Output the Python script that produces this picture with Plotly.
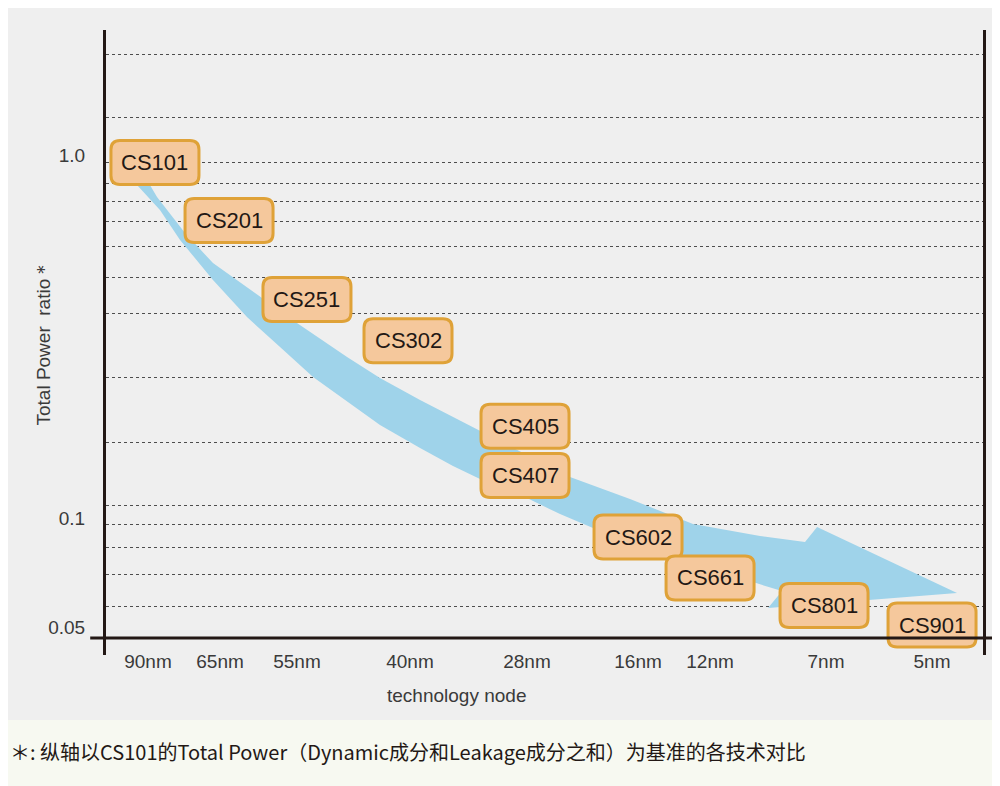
import numpy as np
import plotly.graph_objects as go

# technology nodes along the x axis (axis position)
nodes = ["90nm", "65nm", "55nm", "40nm", "28nm", "16nm", "12nm", "7nm", "5nm"]
node_x = [0, 0.735, 1.52, 2.673, 3.867, 5.0, 5.735, 6.918, 8.0]

# chips and their total power ratio (CS101 = 1.0)
chips = ["CS101", "CS201", "CS251", "CS302", "CS405", "CS407", "CS602", "CS661", "CS801", "CS901"]
chip_x = [0.071, 0.827, 1.622, 2.653, 3.847, 3.847, 5.0, 5.735, 6.898, 8.0]
chip_ratio = [0.954, 0.660, 0.400, 0.308, 0.179, 0.131, 0.0886, 0.0684, 0.0574, 0.0507]

y_ticks = [1.0, 0.1, 0.05]
y_ticktext = ["1.0", "0.1", "0.05"]
grid_vals = [1.897, 1.265, 0.951, 0.837, 0.747, 0.654, 0.558, 0.461, 0.367,
             0.2445, 0.161, 0.108, 0.0957, 0.0832, 0.0697, 0.0569]

# outline of the trend arrow (upper edge, head, lower edge back to start)
arrow_x = [0.020, 0.092, 0.378, 0.663, 1.092, 1.520, 2.031, 2.367, 2.776, 3.112,
           3.388, 3.867, 4.306, 4.918, 5.561, 6.245, 6.704,
           6.827, 8.255, 6.327, 6.469,
           6.173, 5.633, 5.020, 4.541, 4.204, 3.867, 3.388, 3.112, 2.776, 2.367,
           2.031, 1.684, 1.347, 1.010, 0.663, 0.327, 0.122, -0.112]
arrow_y = [0.827, 0.766, 0.6095, 0.5039, 0.4168, 0.3444, 0.2777, 0.2430, 0.2114, 0.1898,
           0.1736, 0.1491, 0.1297, 0.1128, 0.0963, 0.0892, 0.0859,
           0.0944, 0.0621, 0.0565, 0.0629,
           0.0666, 0.0742, 0.0842, 0.0939, 0.1025, 0.1135, 0.1281, 0.1391, 0.1559, 0.1804,
           0.2100, 0.2446, 0.2959, 0.3578, 0.4524, 0.5834, 0.7056, 0.827]

INK = "#231815"
LABEL = "#3a3a3a"
FONT = "Liberation Sans, Arial, sans-serif"
x_axis_pos = 0.0272  # height of the drawn x axis line in paper units

fig = go.Figure()
fig.add_trace(go.Scatter(
    x=arrow_x, y=arrow_y, mode="lines", fill="toself",
    fillcolor="#9fd3ea", line=dict(width=0, color="#9fd3ea"),
    hoverinfo="skip", showlegend=False,
))

# rounded chip boxes, sized in pixels and anchored on the data point
w, h, r = 44, 22, 9
box = (f"M{-w + r},{-h} L{w - r},{-h} Q{w},{-h} {w},{-h + r} L{w},{h - r} "
       f"Q{w},{h} {w - r},{h} L{-w + r},{h} Q{-w},{h} {-w},{h - r} "
       f"L{-w},{-h + r} Q{-w},{-h} {-w + r},{-h} Z")
for name, cx, cy in zip(chips, chip_x, chip_ratio):
    fig.add_shape(type="path", xref="x", yref="y", xsizemode="pixel", ysizemode="pixel",
                  xanchor=cx, yanchor=cy, path=box, fillcolor="#f5c89c",
                  line=dict(color="#dfa238", width=3), layer="above")
    fig.add_annotation(x=cx, y=np.log10(cy), text=name, showarrow=False,
                       xanchor="center", yanchor="middle",
                       font=dict(family=FONT, size=22, color=INK))

# x axis line, overhanging the plot frame
fig.add_shape(type="line", xref="paper", yref="paper", x0=-0.018, x1=1.014,
              y0=x_axis_pos, y1=x_axis_pos, line=dict(color=INK, width=3), layer="above")
# footer band
fig.add_shape(type="rect", xref="paper", yref="paper", x0=-0.13, x1=1.04,
              y0=-0.23, y1=-0.104, fillcolor="#f7f9f1", line=dict(width=0), layer="below")

fig.add_annotation(xref="paper", yref="paper", x=-0.0718, y=0.5, text="Total Power  ratio＊",
                   textangle=-90, showarrow=False, xanchor="center", yanchor="middle",
                   font=dict(family=FONT, size=19, color=LABEL))
fig.add_annotation(xref="paper", yref="paper", x=0.40, y=-0.064, text="technology node",
                   showarrow=False, xanchor="center", yanchor="middle",
                   font=dict(family=FONT, size=19, color=LABEL))
fig.add_annotation(xref="paper", yref="paper", x=-0.1117, y=-0.1536, xanchor="left",
                   yanchor="middle",
                   text="＊: 纵轴以CS101的Total Power（Dynamic成分和Leakage成分之和）为基准的各技术对比",
                   showarrow=False, font=dict(family="Noto Sans CJK SC", size=20, color=INK))

fig.update_layout(
    width=992, height=778,
    margin=dict(l=98, r=17, t=22, b=131),
    paper_bgcolor="#efefef", plot_bgcolor="#efefef",
    showlegend=False,
    xaxis=dict(range=[-0.4286, 8.52], tickmode="array", tickvals=node_x, ticktext=nodes,
               showgrid=False, zeroline=False, showline=False, anchor="free",
               position=x_axis_pos, ticks="", ticklabelstandoff=10,
               tickfont=dict(family=FONT, size=19, color=LABEL)),
    yaxis=dict(type="log", range=[-1.3774, 0.3444], tickmode="array", tickvals=y_ticks,
               ticktext=y_ticktext, showgrid=False, zeroline=False, ticks="",
               showline=True, mirror=True, linecolor=INK, linewidth=3,
               ticklabelstandoff=14,
               tickfont=dict(family=FONT, size=19, color=LABEL),
               minor=dict(tickmode="array", tickvals=grid_vals, showgrid=True,
                          gridcolor="#4d4d4d", gridwidth=1, griddash="3px,3px", ticks="")),
)

fig.write_html("out.html")
